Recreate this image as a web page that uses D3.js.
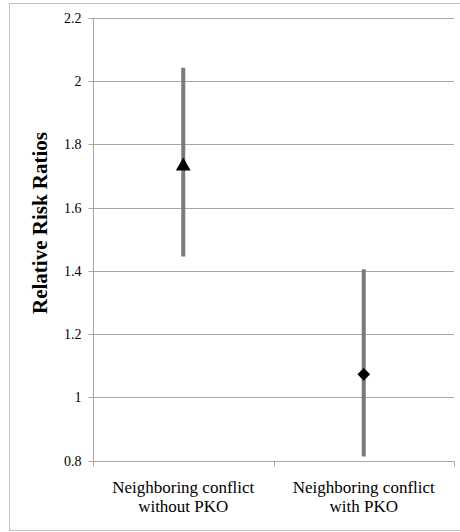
<!DOCTYPE html>
<html><head><meta charset="utf-8">
<script src="https://cdn.jsdelivr.net/npm/d3@7/dist/d3.min.js"></script>
<style>body{margin:0;background:#fff}svg{display:block}</style>
</head><body>
<script>
const categories = [["Neighboring conflict","without PKO"],["Neighboring conflict","with PKO"]];
const estimates = [1.731, 1.073];
const lower = [1.445, 0.813];
const upper = [2.042, 1.405];
const markers = ["triangle", "diamond"];
const yTicks = [0.8, 1, 1.2, 1.4, 1.6, 1.8, 2, 2.2];
const yTitle = "Relative Risk Ratios";

const W = 460, H = 532;
const svg = d3.select("body").append("svg").attr("width", W).attr("height", H);
svg.append("rect").attr("x", 9.5).attr("y", 3.5).attr("width", 470).attr("height", 527)
  .attr("fill", "none").attr("stroke", "#c0c0c0").attr("stroke-width", 1);

const pLeft = 93, pRight = 454, pTop = 17.7, pBottom = 460.7;
const x = d3.scaleBand().domain(d3.range(categories.length)).range([pLeft, pRight]);
const y = d3.scaleLinear().domain([0.8, 2.2]).range([pBottom, pTop]);
const font = "'Liberation Serif', 'Times New Roman', serif";

// grid
svg.append("g").selectAll("line").data(yTicks.slice(1)).join("line")
  .attr("x1", pLeft).attr("x2", pRight)
  .attr("y1", d => Math.round(y(d)) + 0.5).attr("y2", d => Math.round(y(d)) + 0.5)
  .attr("stroke", "#a6a6a6").attr("stroke-width", 1);

// y axis
const ya = svg.append("g").attr("transform", `translate(${pLeft + 0.5},0)`)
  .call(d3.axisLeft(y).tickValues(yTicks).tickSize(5).tickPadding(7).tickFormat(d3.format("")));
ya.attr("font-family", null).attr("font-size", null);
ya.select(".domain").attr("stroke", "#a6a6a6").attr("d", `M0,${pTop}V${pBottom}`);
ya.selectAll(".tick line").attr("stroke", "#a6a6a6");
ya.selectAll(".tick").attr("transform", d => `translate(0,${Math.round(y(d)) + 0.5})`);
ya.selectAll("text").style("font-family", font).style("font-size", "14px").attr("fill", "#000");

// x axis
const xa = svg.append("g").attr("transform", `translate(0,${Math.round(pBottom) + 0.5})`);
xa.append("line").attr("x1", pLeft).attr("x2", pRight).attr("stroke", "#a6a6a6");
const bounds = [pLeft, pLeft + x.bandwidth(), pRight];
xa.selectAll(".xt").data(bounds).join("line").attr("class", "xt")
  .attr("x1", d => Math.round(d) + 0.5).attr("x2", d => Math.round(d) + 0.5)
  .attr("y1", 0).attr("y2", 5).attr("stroke", "#a6a6a6");

const lbl = svg.append("g").selectAll("text").data(categories).join("text")
  .attr("x", (d, i) => x(i) + x.bandwidth() / 2).attr("y", 493)
  .attr("text-anchor", "middle").style("font-family", font).style("font-size", "17px").attr("fill", "#000");
lbl.selectAll("tspan").data(d => d).join("tspan")
  .attr("x", function () { return this.parentNode.getAttribute("x"); })
  .attr("dy", (d, i) => i ? 19 : 0).text(d => d);

// y title
svg.append("text").attr("transform", `translate(47,223) rotate(-90)`)
  .attr("text-anchor", "middle").style("font-family", font).attr("font-weight", "bold")
  .style("font-size", "21px").attr("fill", "#000").text(yTitle);

// whiskers
svg.append("g").selectAll("line").data(estimates).join("line")
  .attr("x1", (d, i) => x(i) + x.bandwidth() / 2).attr("x2", (d, i) => x(i) + x.bandwidth() / 2)
  .attr("y1", (d, i) => y(upper[i])).attr("y2", (d, i) => y(lower[i]))
  .attr("stroke", "#7a7a7a").attr("stroke-width", 4);

// markers
const sym = { triangle: d3.symbol().type(d3.symbolTriangle).size(95), diamond: d3.symbol().type(d3.symbolSquare).size(80) };
svg.append("g").selectAll("path").data(estimates).join("path")
  .attr("d", (d, i) => sym[markers[i]]())
  .attr("transform", (d, i) => `translate(${x(i) + x.bandwidth() / 2},${y(d)})` + (markers[i] === "diamond" ? " rotate(45)" : ""))
  .attr("fill", "#000");
</script>
</body></html>
